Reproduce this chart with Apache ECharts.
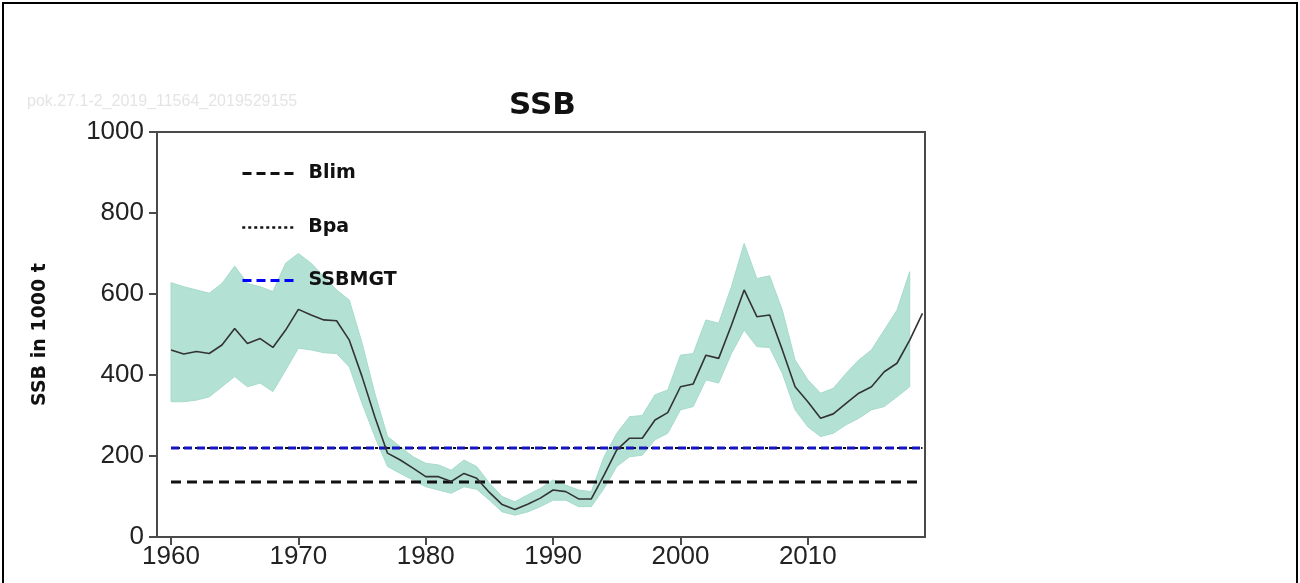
<!DOCTYPE html>
<html>
<head>
<meta charset="utf-8">
<script src="https://cdn.jsdelivr.net/npm/echarts@6/dist/echarts.min.js"></script>
<style>
  html, body { margin: 0; padding: 0; background: #fff; }
  #main { width: 1300px; height: 583px; }
</style>
</head>
<body>
<div id="main"></div>
<script>
// 数据
const years = [];
for (let y = 1960; y <= 2019; y++) years.push(y);

const ssb = [462, 452, 458, 453, 474, 515, 478, 490, 468, 511,
             562, 548, 536, 534, 486, 396, 297, 207, 190, 170,
             149, 149, 137, 157, 145, 110, 80, 68, 81, 96,
             116, 112, 94, 94, 153, 215, 244, 244, 289, 307,
             371, 378, 449, 441, 523, 610, 544, 548, 462, 371,
             334, 293, 304, 330, 355, 371, 408, 429, 486, 552];
const ssbLow = [334, 334, 338, 346, 371, 396, 371, 380, 359, 412,
                466, 462, 455, 453, 420, 330, 248, 174, 157, 141,
                124, 116, 108, 124, 118, 91, 62, 54, 62, 75,
                91, 91, 75, 75, 120, 174, 198, 202, 240, 256,
                314, 322, 388, 380, 453, 511, 470, 468, 404, 314,
                272, 248, 256, 277, 293, 314, 322, 346, 371, null];
const ssbHigh = [628, 618, 610, 602, 626, 669, 626, 618, 606, 676,
                 700, 676, 643, 610, 585, 479, 355, 248, 223, 198,
                 182, 178, 165, 190, 174, 133, 100, 87, 104, 120,
                 141, 128, 116, 112, 198, 256, 297, 300, 351, 363,
                 449, 453, 536, 528, 618, 725, 638, 645, 560, 437,
                 388, 355, 367, 404, 437, 462, 511, 560, 655, null];

const BLIM = 136;
const BPA = 220;
const SSBMGT = 220;

const xTicks = [1960, 1970, 1980, 1990, 2000, 2010];

const BAND_COLOR = '#b3e1d3';
const AXIS_COLOR = '#4a4a4a';
const LABEL_FONT = '"Liberation Sans", Arial, sans-serif';
const BOLD_FONT = '"DejaVu Sans", Verdana, sans-serif';

let pair = arr => years.map((y, i) => [y, arr[i]]);
let flat = v => years.map(y => [y, v]);
// 置信区间 [year, low, high]
let bandData = years
    .map((y, i) => [y, ssbLow[i], ssbHigh[i]])
    .filter(d => d[1] != null && d[2] != null);

let renderBand = function (params, api) {
    if (params.dataIndex !== 0) return;
    let upper = bandData.map(d => api.coord([d[0], d[2]]));
    let lower = bandData.map(d => api.coord([d[0], d[1]])).reverse();
    return {
        type: 'polygon',
        shape: { points: upper.concat(lower) },
        style: { fill: BAND_COLOR, stroke: '#a6dbcb', lineWidth: 1 }
    };
};

let legendAt = (name, top, lineStyle) => ({
    data: [name],
    left: 241,
    top: top,
    padding: 0,
    itemWidth: 52,
    itemHeight: 16,
    selectedMode: false,
    itemStyle: { opacity: 0 },
    lineStyle: lineStyle,
    textStyle: {
        fontFamily: BOLD_FONT,
        fontWeight: 'bold',
        fontSize: 19,
        color: '#111',
        padding: [0, 0, 0, 9]
    }
});

let myChart = echarts.init(document.getElementById('main'));

let option = {
    animation: false,
    title: {
        text: 'SSB',
        left: 509,
        top: 90,
        padding: 0,
        textStyle: {
            fontFamily: BOLD_FONT,
            fontWeight: 'bold',
            fontSize: 31,
            color: '#111'
        }
    },
    graphic: [
        {
            type: 'rect',
            silent: true,
            shape: { x: 3, y: 3, width: 1294, height: 600 },
            style: { fill: null, stroke: '#000', lineWidth: 2 }
        },
        {
            type: 'text',
            silent: true,
            left: 27,
            top: 94,
            style: {
                text: 'pok.27.1-2_2019_11564_2019529155',
                fill: '#e4e4e4',
                font: '16px "Liberation Sans", Arial, sans-serif'
            }
        }
    ],
    legend: [
        legendAt('Blim', 164, { color: '#111', width: 3, type: [9, 5] }),
        legendAt('Bpa', 218, { color: '#111', width: 2.5, type: [3, 3] }),
        legendAt('SSBMGT', 271, { color: '#0000ff', width: 3, type: [9, 5] })
    ],
    grid: {
        left: 157,
        right: 375,
        top: 132,
        bottom: 46,
        show: true,
        borderColor: AXIS_COLOR,
        borderWidth: 2,
        backgroundColor: 'transparent'
    },
    xAxis: {
        type: 'value',
        min: 1958.9,
        max: 2019.2,
        splitLine: { show: false },
        axisLine: { lineStyle: { color: AXIS_COLOR, width: 2 } },
        axisTick: {
            show: true,
            length: 8,
            customValues: xTicks,
            lineStyle: { color: AXIS_COLOR, width: 2 }
        },
        axisLabel: {
            customValues: xTicks,
            formatter: v => String(v),
            margin: 7,
            fontFamily: LABEL_FONT,
            fontSize: 26,
            color: '#222'
        }
    },
    yAxis: {
        type: 'value',
        min: 0,
        max: 1000,
        interval: 200,
        name: 'SSB in 1000 t',
        nameLocation: 'middle',
        nameGap: 107,
        nameRotate: 90,
        nameTextStyle: {
            fontFamily: BOLD_FONT,
            fontWeight: 'bold',
            fontSize: 19,
            color: '#111'
        },
        splitLine: { show: false },
        axisLine: { show: true, lineStyle: { color: AXIS_COLOR, width: 2 } },
        axisTick: {
            show: true,
            length: 8,
            lineStyle: { color: AXIS_COLOR, width: 2 }
        },
        axisLabel: {
            formatter: v => String(v),
            margin: 13,
            fontFamily: LABEL_FONT,
            fontSize: 26,
            color: '#222'
        }
    },
    series: [
        {
            name: 'band',
            type: 'custom',
            silent: true,
            renderItem: renderBand,
            encode: { x: 0, y: [1, 2] },
            data: bandData,
            z: 1
        },
        {
            name: 'Blim',
            type: 'line',
            symbol: 'none',
            color: '#111',
            lineStyle: { color: '#111', width: 3, type: [10, 6] },
            data: flat(BLIM),
            z: 3
        },
        {
            name: 'Bpa',
            type: 'line',
            symbol: 'none',
            color: '#111',
            lineStyle: { color: '#111', width: 2, type: [3, 3] },
            data: flat(BPA),
            z: 3
        },
        {
            name: 'SSBMGT',
            type: 'line',
            symbol: 'none',
            color: '#1414c0',
            lineStyle: { color: '#1414c0', width: 3, type: [8, 5] },
            data: flat(SSBMGT),
            z: 4
        },
        {
            name: 'SSB',
            type: 'line',
            symbol: 'none',
            color: '#333',
            lineStyle: { color: '#333', width: 1.6 },
            data: pair(ssb),
            z: 5
        }
    ]
};

myChart.setOption(option);
</script>
</body>
</html>
